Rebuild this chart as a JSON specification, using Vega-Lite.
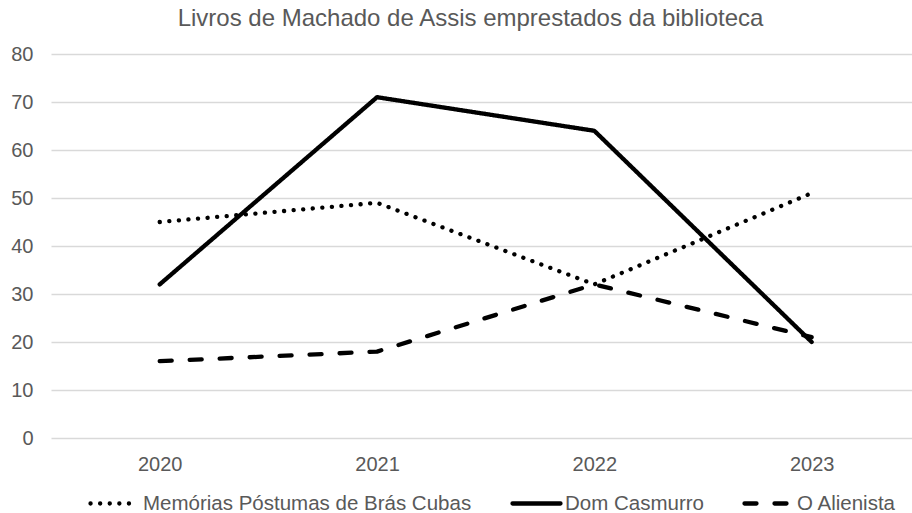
{
  "$schema": "https://vega.github.io/schema/vega-lite/v6.json",
  "autosize": "none",
  "width": 861,
  "height": 384,
  "padding": {"left": 51, "top": 54, "right": 0, "bottom": 75},
  "background": "white",
  "title": {
    "text": "Livros de Machado de Assis emprestados da biblioteca",
    "font": "Liberation Sans",
    "fontSize": 24,
    "fontWeight": "normal",
    "color": "#595959",
    "anchor": "middle",
    "dx": -11,
    "offset": 13
  },
  "data": {
    "values": [
      {"ano": "2020", "livro": "Memórias Póstumas de Brás Cubas", "emprestimos": 45},
      {"ano": "2021", "livro": "Memórias Póstumas de Brás Cubas", "emprestimos": 49},
      {"ano": "2022", "livro": "Memórias Póstumas de Brás Cubas", "emprestimos": 32},
      {"ano": "2023", "livro": "Memórias Póstumas de Brás Cubas", "emprestimos": 51},
      {"ano": "2020", "livro": "Dom Casmurro", "emprestimos": 32},
      {"ano": "2021", "livro": "Dom Casmurro", "emprestimos": 71},
      {"ano": "2022", "livro": "Dom Casmurro", "emprestimos": 64},
      {"ano": "2023", "livro": "Dom Casmurro", "emprestimos": 20},
      {"ano": "2020", "livro": "O Alienista", "emprestimos": 16},
      {"ano": "2021", "livro": "O Alienista", "emprestimos": 18},
      {"ano": "2022", "livro": "O Alienista", "emprestimos": 32},
      {"ano": "2023", "livro": "O Alienista", "emprestimos": 21}
    ]
  },
  "mark": {"type": "line", "color": "black", "strokeWidth": 4.3, "strokeCap": "round", "strokeJoin": "round"},
  "encoding": {
    "x": {
      "field": "ano",
      "type": "ordinal",
      "scale": {"type": "point", "padding": 0.481, "align": 0.52},
      "axis": {
        "title": null,
        "labelAngle": 0,
        "domain": false,
        "ticks": false,
        "tickSize": 0,
        "grid": false,
        "labelPadding": 16,
        "labelFont": "Liberation Sans",
        "labelFontSize": 20,
        "labelColor": "#595959"
      }
    },
    "y": {
      "field": "emprestimos",
      "type": "quantitative",
      "scale": {"domain": [0, 80], "nice": false},
      "axis": {
        "title": null,
        "values": [0, 10, 20, 30, 40, 50, 60, 70, 80],
        "domain": false,
        "ticks": false,
        "tickSize": 0,
        "grid": true,
        "gridColor": "#d9d9d9",
        "gridWidth": 1.3,
        "labelPadding": 18,
        "labelFont": "Liberation Sans",
        "labelFontSize": 20,
        "labelColor": "#595959"
      }
    },
    "strokeDash": {
      "field": "livro",
      "type": "nominal",
      "scale": {
        "domain": ["Memórias Póstumas de Brás Cubas", "Dom Casmurro", "O Alienista"],
        "range": [[0.1, 9.5], [1, 0], [12, 18]]
      },
      "legend": {
        "title": null,
        "orient": "none",
        "direction": "horizontal",
        "legendX": 37,
        "legendY": 423,
        "padding": 0,
        "columnPadding": 31,
        "symbolType": "stroke",
        "symbolSize": 2304,
        "symbolStrokeWidth": 4.3,
        "symbolStrokeColor": "black",
        "labelOffset": 2,
        "labelFont": "Liberation Sans",
        "labelFontSize": 20.5,
        "labelColor": "#595959",
        "labelLimit": 500,
        "encode": {"symbols": {"update": {"strokeCap": {"value": "round"}}}}
      }
    }
  },
  "config": {"view": {"stroke": null}}
}
